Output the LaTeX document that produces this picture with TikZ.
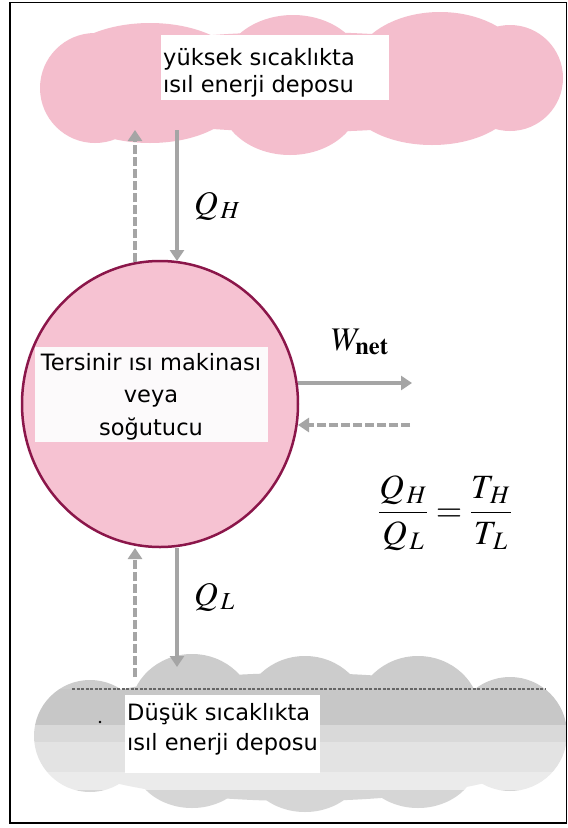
\documentclass[tikz,border=0pt]{standalone}
\usepackage{mathptmx}
\usepackage{fontspec}
\newfontfamily\dv{DejaVu Sans}
\usetikzlibrary{arrows.meta}
\definecolor{pinkcloud}{RGB}{244,190,205}
\definecolor{pinkcirc}{RGB}{246,194,210}
\definecolor{maroon}{RGB}{139,22,74}
\definecolor{arrgray}{RGB}{165,165,165}
\definecolor{boxwhite}{RGB}{252,250,251}
\begin{document}
\begin{tikzpicture}[x=1pt,y=-1pt,
  lbl/.style={font=\dv\fontsize{22.5}{27}\selectfont, inner sep=0pt, text=black},
  mathlbl/.style={font=\fontsize{33}{35}\selectfont, inner sep=0pt},
  flow/.style={line width=4.5pt, draw=arrgray, -{Triangle[width=14pt,length=11pt]}},
  backflow/.style={flow, dash pattern=on 9pt off 3pt}]
\useasboundingbox (0,0) rectangle (568,828);
\fill[white] (0,0) rectangle (568,828);

% high-temperature reservoir (pink cloud)
\fill[pinkcloud]
  (300,82) ellipse [x radius=255pt, y radius=50pt]
  (95,88) circle (55pt)
  (510,78) circle (53pt)
  (150,75) ellipse [x radius=95pt, y radius=52pt]
  (293,72) ellipse [x radius=72pt, y radius=57pt]
  (440,72) ellipse [x radius=88pt, y radius=60pt]
  (150,95) ellipse [x radius=90pt, y radius=48pt]
  (290,100) ellipse [x radius=70pt, y radius=55pt]
  (432,97) ellipse [x radius=85pt, y radius=48pt];

% low-temperature reservoir (gray cloud)
\begin{scope}
\clip
  (300,737) ellipse [x radius=266pt, y radius=64pt]
  (90,736) circle (56pt)
  (510,734) circle (57pt)
  (192,712) ellipse [x radius=62pt, y radius=58pt]
  (305,714) ellipse [x radius=62pt, y radius=58pt]
  (418,714) ellipse [x radius=62pt, y radius=58pt]
  (192,758) ellipse [x radius=60pt, y radius=50pt]
  (305,762) ellipse [x radius=60pt, y radius=50pt]
  (418,758) ellipse [x radius=60pt, y radius=50pt];
\fill[black!20] (0,640) rectangle (568,689);
\fill[black!22] (0,689) rectangle (568,725);
\fill[black!15] (0,725) rectangle (568,742);
\fill[black!11] (0,742) rectangle (568,772);
\fill[black!8] (0,772) rectangle (568,790);
\fill[black!16] (0,790) rectangle (568,828);
\end{scope}
\draw[black!60, line width=1.2pt, dash pattern=on 3pt off 1.5pt] (72,689) -- (545,689);

% engine circle
\draw[fill=pinkcirc, draw=maroon, line width=2.5pt] (160,404) ellipse [x radius=138pt, y radius=143pt];

% text boxes
\fill[white] (161,35) rectangle (389,100);
\fill[boxwhite] (35,347) rectangle (268,442);
\fill[white] (125,695) rectangle (320,773);
\fill[black] (100,722) circle (1.3pt);

% texts
\node[lbl, anchor=base west] (hot1) at (163,65) {yüksek sıcaklıkta};
\node[lbl, anchor=base west] (hot2) at (163,92) {ısıl enerji deposu};
\node[lbl, anchor=base] (eng1) at (151,370) {Tersinir ısı makinası};
\node[lbl, anchor=base] (eng2) at (151,402) {veya};
\node[lbl, anchor=base] (eng3) at (151,435) {soğutucu};
\node[lbl, anchor=base west] (cold1) at (127,720) {Düşük sıcaklıkta};
\node[lbl, anchor=base west] (cold2) at (127,750) {ısıl enerji deposu};

% connectors
\coordinate (hTopL) at (135,130);
\coordinate (hBotL) at (135,262);
\coordinate (hTopR) at (177,130);
\coordinate (hBotR) at (177,261);
\coordinate (cTopL) at (135,548);
\coordinate (cBotL) at (135,677);
\coordinate (cTopR) at (177,548);
\coordinate (cBotR) at (177,667);
\coordinate (wL1) at (298,383);
\coordinate (wR1) at (412,383);
\coordinate (wL2) at (298,425);
\coordinate (wR2) at (410,425);
\draw[backflow] (hBotL) -- (hTopL);
\draw[flow] (hTopR) -- (hBotR);
\draw[backflow] (cBotL) -- (cTopL);
\draw[flow] (cTopR) -- (cBotR);
\draw[flow] (wL1) -- (wR1);
\draw[backflow] (wR2) -- (wL2);

% math labels
\node[mathlbl, anchor=base west] (QH) at (194,214) {$Q_{\,H}$};
\node[mathlbl, anchor=base west] (QL) at (194,605) {$Q_{\,L}$};
\node[mathlbl, anchor=base west] (W) at (331,350) {$W_{\mathbf{net}}$};
\node[font=\fontsize{34}{36}\selectfont, inner sep=0pt] (eq) at (445,513)
  {$\displaystyle\frac{Q_{\,H}}{Q_{\,L}}=\frac{T_{\,H}}{T_{\,L}}$};

% frame
\draw[black, line width=1.5pt] (10,2.5) rectangle (566.5,823);
\end{tikzpicture}
\end{document}
